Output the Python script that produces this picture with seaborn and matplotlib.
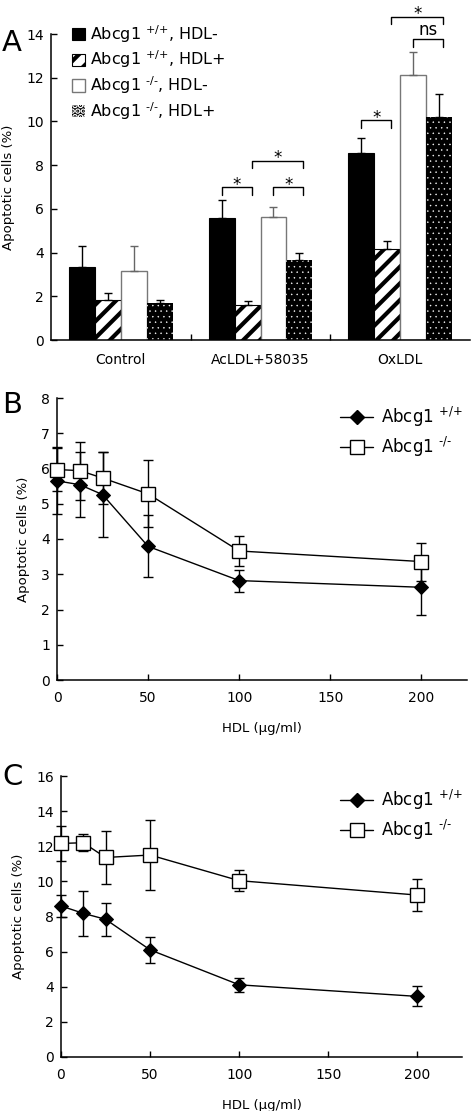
import matplotlib
matplotlib.use('Agg')
import matplotlib.pyplot as plt
from matplotlib.patches import Patch
from matplotlib.lines import Line2D
import seaborn as sns
import pandas as pd
import numpy as np

# panel A data
categories = ['Control', 'AcLDL+58035', 'OxLDL']
groups = ['wt_neg', 'wt_pos', 'ko_neg', 'ko_pos']
group_labels = ['Abcg1 $^{\\text{+/+}}$, HDL-', 'Abcg1 $^{\\text{+/+}}$, HDL+',
                'Abcg1 $^{\\text{-/-}}$, HDL-', 'Abcg1 $^{\\text{-/-}}$, HDL+']
wt_neg = [3.35, 5.57, 8.56]
wt_neg_err = [0.95, 0.83, 0.69]
wt_pos = [1.82, 1.59, 4.15]
wt_pos_err = [0.32, 0.18, 0.40]
ko_neg = [3.16, 5.62, 12.12]
ko_neg_err = [1.16, 0.48, 1.06]
ko_pos = [1.71, 3.66, 10.21]
ko_pos_err = [0.12, 0.34, 1.03]

# panels B and C data
hdl = [0, 12.5, 25, 50, 100, 200]
b_wt = [5.65, 5.54, 5.26, 3.79, 2.82, 2.63]
b_wt_err = [0.95, 0.93, 1.20, 0.88, 0.31, 0.78]
b_ko = [5.97, 5.94, 5.73, 5.28, 3.66, 3.36]
b_ko_err = [0.60, 0.82, 0.73, 0.95, 0.42, 0.54]
c_wt = [8.60, 8.18, 7.84, 6.10, 4.11, 3.45]
c_wt_err = [0.63, 1.29, 0.93, 0.74, 0.40, 0.57]
c_ko = [12.16, 12.20, 11.36, 11.50, 10.04, 9.22]
c_ko_err = [1.00, 0.48, 1.52, 2.00, 0.60, 0.93]

sns.set_style('ticks')
plt.rcParams['font.family'] = ['DejaVu Sans']
plt.rcParams['mathtext.fontset'] = 'dejavusans'
plt.rcParams['hatch.linewidth'] = 3.0
plt.rcParams['text.color'] = 'black'
plt.rcParams['axes.labelcolor'] = 'black'
plt.rcParams['xtick.color'] = 'black'
plt.rcParams['ytick.color'] = 'black'

fig = plt.figure(figsize=(4.72, 11.11), dpi=100)
W, H = 472, 1111


def ax_box(left, top, right, bottom):
    return [left / W, 1 - bottom / H, (right - left) / W, (bottom - top) / H]


def style_axis(ax):
    sns.despine(ax=ax)
    for s in ['left', 'bottom']:
        ax.spines[s].set_linewidth(1.1)
        ax.spines[s].set_color('black')
    ax.tick_params(axis='both', direction='in', length=4, width=1, labelsize=10, pad=5,
                   colors='black')


# ---------------- panel A ----------------
axA = fig.add_axes(ax_box(51, 34, 470, 340))
vals = [wt_neg, wt_pos, ko_neg, ko_pos]
errs = [wt_neg_err, wt_pos_err, ko_neg_err, ko_pos_err]
rows = []
for g, v in zip(groups, vals):
    for c, y in zip(categories, v):
        rows.append({'treatment': c, 'group': g, 'value': y})
dfA = pd.DataFrame(rows)

sns.barplot(data=dfA, x='treatment', y='value', hue='group', order=categories,
            hue_order=groups, palette=['black', 'white', 'white', 'black'],
            width=0.74, errorbar=None, legend=False, ax=axA, saturation=1)


def style_bar(p, kind):
    if kind == 'wt_neg':
        p.set_facecolor('black'); p.set_edgecolor('black'); p.set_linewidth(0.8)
    elif kind == 'wt_pos':
        p.set_facecolor('white'); p.set_edgecolor('black'); p.set_linewidth(0.8)
        p.set_hatch('//')
        if hasattr(p, 'set_hatch_linewidth'):
            p.set_hatch_linewidth(3.0)
    elif kind == 'ko_neg':
        p.set_facecolor('white'); p.set_edgecolor('#777777'); p.set_linewidth(1.0)
    else:
        p.set_facecolor('black'); p.set_edgecolor('white'); p.set_linewidth(0)
        p.set_hatch('...')
        if hasattr(p, 'set_hatch_linewidth'):
            p.set_hatch_linewidth(0.3)


centers = {}
for g, cont, e in zip(groups, axA.containers, errs):
    xs = []
    for p in cont.patches:
        style_bar(p, g)
        xs.append(p.get_x() + p.get_width() / 2)
    centers[g] = xs
    ecol = '#666666' if g == 'ko_neg' else 'black'
    axA.errorbar(xs, [p.get_height() for p in cont.patches], yerr=[np.zeros(len(e)), e],
                 fmt='none', ecolor=ecol, elinewidth=1, capsize=3, capthick=1, zorder=1)

axA.set_xlim(-0.5, 2.5)
axA.set_ylim(0, 14)
axA.set_yticks(range(0, 15, 2))
axA.set_xlabel('')
axA.set_ylabel('Apoptotic cells (%)', fontsize=9.5, labelpad=8)
style_axis(axA)
axA.set_xticks([0.5, 1.5], minor=True)
axA.tick_params(axis='x', which='major', length=0, pad=9)
axA.tick_params(axis='x', which='minor', direction='in', length=4, width=1)


def bracket(ax, x1, x2, y, text, h=0.35, fs=12):
    ax.plot([x1, x1, x2, x2], [y - h, y, y, y - h], color='black', lw=1, clip_on=False)
    off = -0.3 if text == '*' else 0.0
    ax.text((x1 + x2) / 2, y + off, text, ha='center', va='bottom', fontsize=fs)


c = centers
bracket(axA, c['wt_neg'][1], c['wt_pos'][1] + 0.03, 7.0, '*')
bracket(axA, c['ko_neg'][1], c['ko_pos'][1] + 0.03, 7.0, '*')
bracket(axA, c['wt_pos'][1] + 0.03, c['ko_pos'][1] + 0.03, 8.2, '*')
bracket(axA, c['wt_neg'][2], c['wt_pos'][2] + 0.03, 10.05, '*')
bracket(axA, c['ko_neg'][2], c['ko_pos'][2] + 0.03, 13.75, 'ns', fs=12)
bracket(axA, c['wt_pos'][2] + 0.03, c['ko_pos'][2] + 0.03, 14.8, '*')

handles = []
for g, lab in zip(groups, group_labels):
    p = Patch(label=lab)
    style_bar(p, g)
    if g == 'ko_pos':
        p.set_linewidth(0)
    handles.append(p)
axA.legend(handles=handles, loc='upper left', bbox_to_anchor=(72 / W, 1 - 23 / H),
           bbox_transform=fig.transFigure, frameon=False, fontsize=11.5,
           handlelength=0.8, handleheight=0.8, handletextpad=0.3,
           labelspacing=0.25, borderaxespad=0, borderpad=0)

fig.text(2 / W, 1 - 43 / H, 'A', fontsize=21, va='center', ha='left')


# ---------------- panels B and C ----------------
def line_panel(box, wt, wt_err, ko, ko_err, ymax, ystep, letter, letter_y, leg_top):
    ax = fig.add_axes(box)
    ax.errorbar(hdl, wt, yerr=wt_err, fmt='none', ecolor='black', elinewidth=1,
                capsize=3.5, capthick=1, zorder=1, clip_on=False)
    ax.errorbar(hdl, ko, yerr=ko_err, fmt='none', ecolor='black', elinewidth=1,
                capsize=3.5, capthick=1, zorder=1, clip_on=False)
    sns.lineplot(x=hdl, y=wt, ax=ax, color='black', lw=1, marker='D', markersize=7,
                 markerfacecolor='black', markeredgecolor='black', clip_on=False, zorder=3)
    sns.lineplot(x=hdl, y=ko, ax=ax, color='black', lw=1, marker='s', markersize=9.5,
                 markerfacecolor='white', markeredgecolor='black', markeredgewidth=1,
                 clip_on=False, zorder=4)
    ax.set_xlim(0, 225)
    ax.set_ylim(0, ymax)
    ax.set_xticks([0, 50, 100, 150, 200])
    ax.set_yticks(np.arange(0, ymax + 0.1, ystep))
    ax.set_xlabel('HDL (\u03bcg/ml)', fontsize=9.5, labelpad=12)
    ax.set_ylabel('Apoptotic cells (%)', fontsize=9.5, labelpad=8)
    style_axis(ax)
    ax.tick_params(axis='x', pad=8)
    hs = [Line2D([], [], color='black', lw=1, marker='D', markersize=7,
                 markerfacecolor='black', label='Abcg1 $^{\\text{+/+}}$'),
          Line2D([], [], color='black', lw=1, marker='s', markersize=9.5,
                 markerfacecolor='white', markeredgecolor='black',
                 label='Abcg1 $^{\\text{-/-}}$')]
    ax.legend(handles=hs, loc='upper left', bbox_to_anchor=(340 / W, 1 - leg_top / H),
              bbox_transform=fig.transFigure, frameon=False, fontsize=12,
              handlelength=2.0, handletextpad=0.45, labelspacing=0.35,
              borderaxespad=0, borderpad=0)
    fig.text(2 / W, 1 - letter_y / H, letter, fontsize=21, va='center', ha='left')
    return ax


line_panel(ax_box(57, 398, 467, 680), b_wt, b_wt_err, b_ko, b_ko_err, 8, 1, 'B', 405, 405)
line_panel(ax_box(61, 776, 462, 1057), c_wt, c_wt_err, c_ko, c_ko_err, 16, 2, 'C', 777, 788)

fig.savefig('out.png', dpi=100)
